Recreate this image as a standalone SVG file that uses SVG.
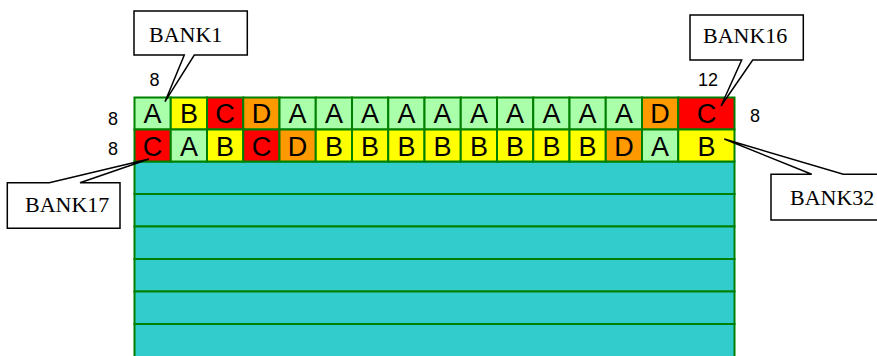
<svg xmlns="http://www.w3.org/2000/svg" width="877" height="356" viewBox="0 0 877 356">
<style>
.c{stroke:#008000;stroke-width:2}
.a{fill:#AAFFAA}.b{fill:#FFFF00}.r{fill:#FF0000}.o{fill:#FF9900}.t{fill:#33CCCC}
.l{font-family:"Liberation Sans",Arial,sans-serif;font-size:27px;text-anchor:middle;fill:#000}
.n{font-family:"Liberation Sans",Arial,sans-serif;font-size:18px;text-anchor:middle;fill:#000}
.co{fill:#fff;stroke:#000;stroke-width:1.5;stroke-linejoin:miter}
.ct{font-family:"Liberation Serif","Times New Roman",serif;font-size:22px;fill:#000}
</style>
<rect width="877" height="356" fill="#fff"/>
<g id="memory-rows">
<rect class="c t" x="134.5" y="161.5" width="600" height="32.5"/>
<rect class="c t" x="134.5" y="194" width="600" height="32.5"/>
<rect class="c t" x="134.5" y="226.5" width="600" height="32.5"/>
<rect class="c t" x="134.5" y="259" width="600" height="32.5"/>
<rect class="c t" x="134.5" y="291.5" width="600" height="32.5"/>
<rect class="c t" x="134.5" y="324" width="600" height="34"/>
</g>
<g id="row1">
<rect class="c a" x="134.5" y="97.5" width="36.25" height="32"/>
<rect class="c b" x="170.75" y="97.5" width="36.25" height="32"/>
<rect class="c r" x="207" y="97.5" width="36.25" height="32"/>
<rect class="c o" x="243.25" y="97.5" width="36.25" height="32"/>
<rect class="c a" x="279.5" y="97.5" width="36.25" height="32"/>
<rect class="c a" x="315.75" y="97.5" width="36.25" height="32"/>
<rect class="c a" x="352" y="97.5" width="36.25" height="32"/>
<rect class="c a" x="388.25" y="97.5" width="36.25" height="32"/>
<rect class="c a" x="424.5" y="97.5" width="36.25" height="32"/>
<rect class="c a" x="460.75" y="97.5" width="36.25" height="32"/>
<rect class="c a" x="497" y="97.5" width="36.25" height="32"/>
<rect class="c a" x="533.25" y="97.5" width="36.25" height="32"/>
<rect class="c a" x="569.5" y="97.5" width="36.25" height="32"/>
<rect class="c a" x="605.75" y="97.5" width="36.25" height="32"/>
<rect class="c o" x="642" y="97.5" width="36.25" height="32"/>
<rect class="c r" x="678.25" y="97.5" width="56.25" height="32"/>
<text class="l" x="152.6" y="123">A</text>
<text class="l" x="188.9" y="123">B</text>
<text class="l" x="225.1" y="123">C</text>
<text class="l" x="261.4" y="123">D</text>
<text class="l" x="297.6" y="123">A</text>
<text class="l" x="333.9" y="123">A</text>
<text class="l" x="370.1" y="123">A</text>
<text class="l" x="406.4" y="123">A</text>
<text class="l" x="442.6" y="123">A</text>
<text class="l" x="478.9" y="123">A</text>
<text class="l" x="515.1" y="123">A</text>
<text class="l" x="551.4" y="123">A</text>
<text class="l" x="587.6" y="123">A</text>
<text class="l" x="623.9" y="123">A</text>
<text class="l" x="660.1" y="123">D</text>
<text class="l" x="706.4" y="123">C</text>
</g>
<g id="row2">
<rect class="c r" x="134.5" y="129.5" width="36.25" height="32"/>
<rect class="c a" x="170.75" y="129.5" width="36.25" height="32"/>
<rect class="c b" x="207" y="129.5" width="36.25" height="32"/>
<rect class="c r" x="243.25" y="129.5" width="36.25" height="32"/>
<rect class="c o" x="279.5" y="129.5" width="36.25" height="32"/>
<rect class="c b" x="315.75" y="129.5" width="36.25" height="32"/>
<rect class="c b" x="352" y="129.5" width="36.25" height="32"/>
<rect class="c b" x="388.25" y="129.5" width="36.25" height="32"/>
<rect class="c b" x="424.5" y="129.5" width="36.25" height="32"/>
<rect class="c b" x="460.75" y="129.5" width="36.25" height="32"/>
<rect class="c b" x="497" y="129.5" width="36.25" height="32"/>
<rect class="c b" x="533.25" y="129.5" width="36.25" height="32"/>
<rect class="c b" x="569.5" y="129.5" width="36.25" height="32"/>
<rect class="c o" x="605.75" y="129.5" width="36.25" height="32"/>
<rect class="c a" x="642" y="129.5" width="36.25" height="32"/>
<rect class="c b" x="678.25" y="129.5" width="56.25" height="32"/>
<text class="l" x="152.6" y="155.5">C</text>
<text class="l" x="188.9" y="155.5">A</text>
<text class="l" x="225.1" y="155.5">B</text>
<text class="l" x="261.4" y="155.5">C</text>
<text class="l" x="297.6" y="155.5">D</text>
<text class="l" x="333.9" y="155.5">B</text>
<text class="l" x="370.1" y="155.5">B</text>
<text class="l" x="406.4" y="155.5">B</text>
<text class="l" x="442.6" y="155.5">B</text>
<text class="l" x="478.9" y="155.5">B</text>
<text class="l" x="515.1" y="155.5">B</text>
<text class="l" x="551.4" y="155.5">B</text>
<text class="l" x="587.6" y="155.5">B</text>
<text class="l" x="623.9" y="155.5">D</text>
<text class="l" x="660.1" y="155.5">A</text>
<text class="l" x="706.4" y="155.5">B</text>
</g>
<g id="dimensions">
<text class="n" x="154.5" y="86">8</text>
<text class="n" x="708" y="86">12</text>
<text class="n" x="113" y="125">8</text>
<text class="n" x="113" y="155">8</text>
<text class="n" x="755" y="122">8</text>
</g>
<g id="bank1">
<path class="co" d="M134,11 H247.3 V55 H194.3 L165,101.7 L184.3,55 H134 Z"/>
<text class="ct" x="149" y="42">BANK1</text>
</g>
<g id="bank16">
<path class="co" d="M690,15 H803.3 V60 H752.7 L721,106 L741.7,60 H690 Z"/>
<text class="ct" x="703" y="42.5">BANK16</text>
</g>
<g id="bank32">
<path class="co" d="M771,174.3 H811.7 L724.3,139 L843.3,174.3 H880 V220 H771 Z"/>
<text class="ct" x="790" y="205">BANK32</text>
</g>
<g id="bank17">
<path class="co" d="M7.3,182.7 H49.3 L149,159 L80,182.7 H120 V228.3 H7.3 Z"/>
<text class="ct" x="25" y="212">BANK17</text>
</g>
</svg>
